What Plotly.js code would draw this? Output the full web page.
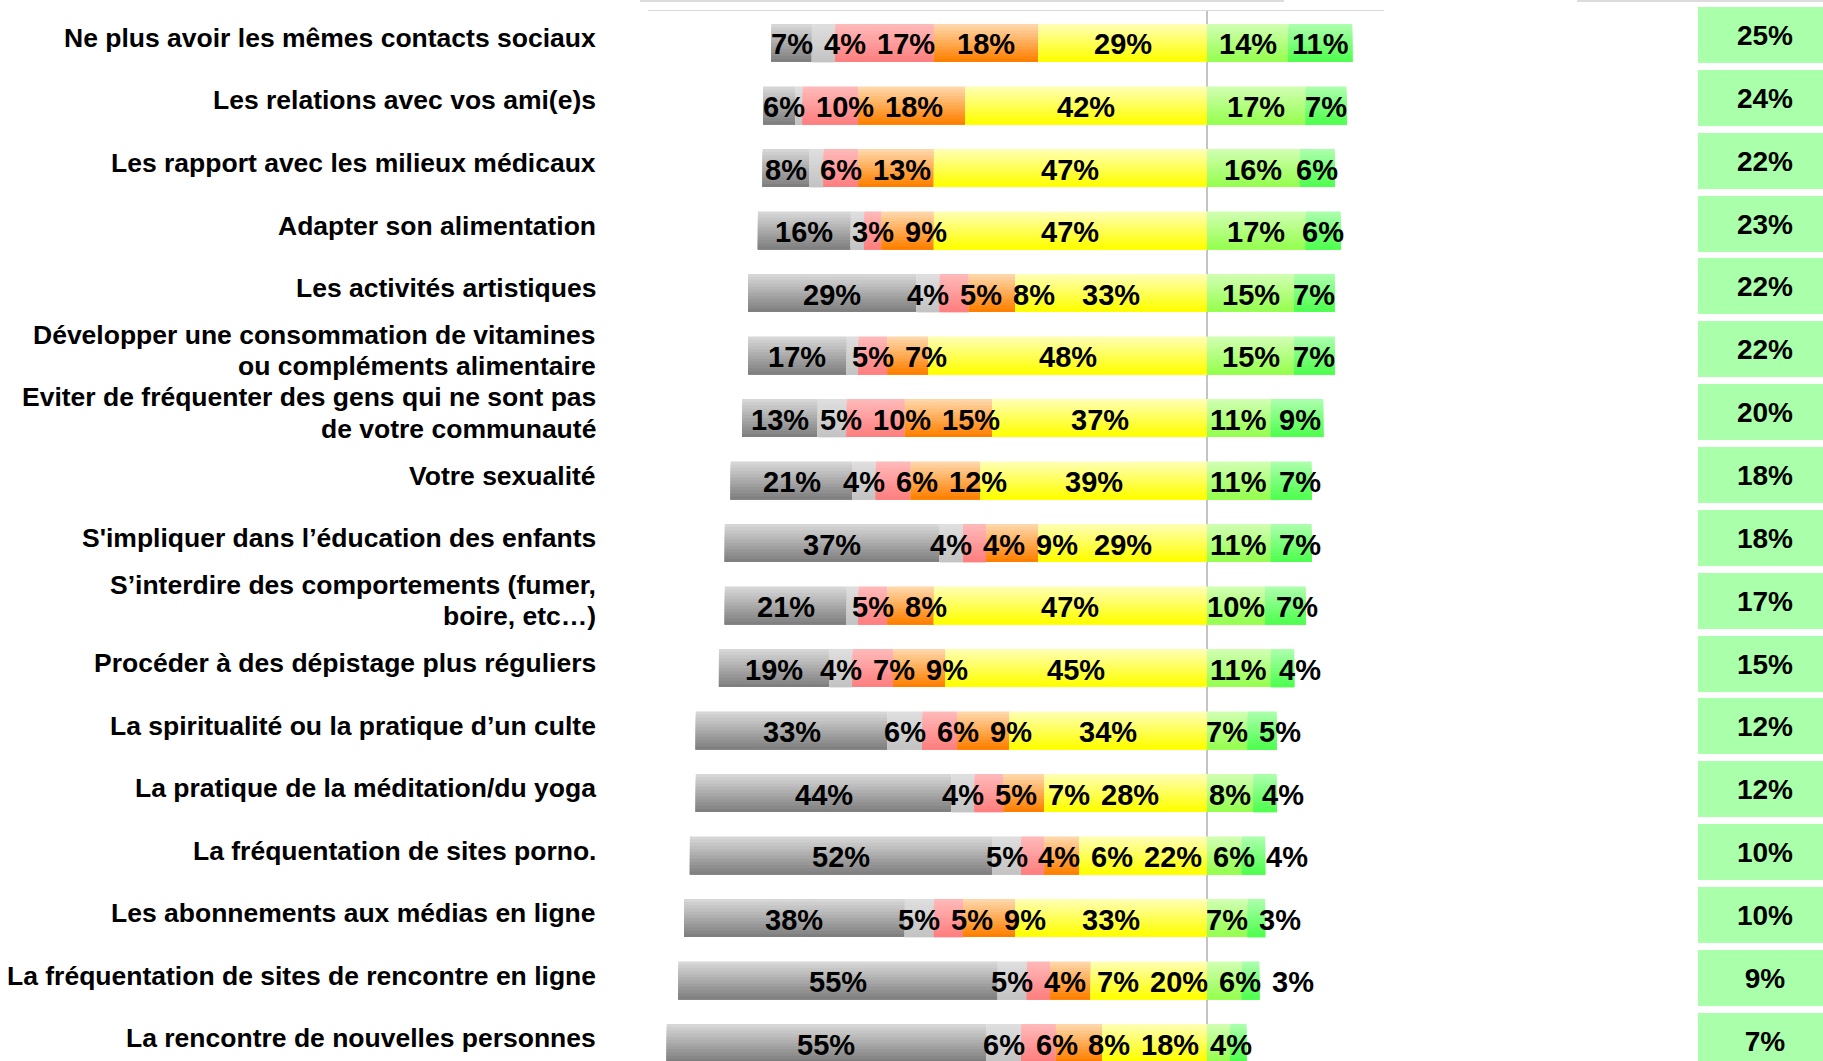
<!DOCTYPE html>
<html>
<head>
<meta charset="utf-8">
<script src="https://cdn.plot.ly/plotly-3.0.1.min.js"></script>
<style>html,body{margin:0;padding:0;background:#fff;}#chart{width:1823px;height:1061px;}</style>
</head>
<body>
<div id="chart"></div>
<script>
const categories = [
  'Ne plus avoir les mêmes contacts sociaux',
  'Les relations avec vos ami(e)s',
  'Les rapport avec les milieux médicaux',
  'Adapter son alimentation',
  'Les activités artistiques',
  'Développer une consommation de vitamines<br>ou compléments alimentaire',
  'Eviter de fréquenter des gens qui ne sont pas<br>de votre communauté',
  'Votre sexualité',
  "S'impliquer dans l’éducation des enfants",
  'S’interdire des comportements (fumer,<br>boire, etc…)',
  'Procéder à des dépistage plus réguliers',
  'La spiritualité ou la pratique d’un culte',
  'La pratique de la méditation/du yoga',
  'La fréquentation de sites porno.',
  'Les abonnements aux médias en ligne',
  'La fréquentation de sites de rencontre en ligne',
  'La rencontre de nouvelles personnes'
];
// left side (negative), from outer to centre
const darkGrey   = [7, 5.6, 8, 16, 29, 17, 13, 21, 37, 21, 19, 33, 44, 52, 38, 55, 55];
const lightGrey  = [4, 1.2, 2.5, 2.3, 4, 2, 5, 4, 4, 2, 4, 6, 4, 5, 5, 5, 6];
const pink       = [17, 9.6, 6, 3, 5, 5, 10, 6, 4, 5, 7, 6, 5, 4, 5, 4, 6];
const orange     = [18, 18.4, 13, 9, 8, 7, 15, 12, 9, 8, 9, 9, 7, 6, 9, 7, 8];
const yellow     = [29, 41.6, 47, 47, 33, 48, 37, 39, 29, 47, 45, 34, 28, 22, 33, 20, 18];
// right side (positive), from centre outwards
const lightGreen = [14, 17, 16, 17, 15, 15, 11, 11, 11, 10, 11, 7, 8, 6, 7, 6, 4];
const green      = [11, 7, 6, 6, 7, 7, 9, 7, 7, 7, 4, 5, 4, 4, 3, 3, 2.8];
// right-hand column
const totals     = [25, 24, 22, 23, 22, 22, 20, 18, 18, 17, 15, 12, 12, 10, 10, 9, 7];

const W = 1823, H = 1061;
const FONT = 'Liberation Sans, Arial, Helvetica, sans-serif';
const LABEL_SIZE = 29;

const outerToCentre = [
  {v: darkGrey,  top: [214,214,214], bot: [128,128,128]},
  {v: lightGrey, top: [222,222,222], bot: [196,196,196]},
  {v: pink,      top: [255,184,184], bot: [255,128,128]},
  {v: orange,    top: [255,214,168], bot: [255,128,0]},
  {v: yellow,    top: [255,255,176], bot: [255,255,0]}
];
const rightSeries = [
  {v: lightGreen, top: [208,255,176], bot: [150,255,80]},
  {v: green,      top: [170,255,170], bot: [80,255,80]}
];

const n = categories.length;
function computeSegments() {
  const segs = [];
  const leftTotal = new Array(n).fill(0);
  outerToCentre.forEach(s => s.v.forEach((v, i) => leftTotal[i] += v));
  let acc = leftTotal.map(t => -t);
  outerToCentre.forEach(s => {
    segs.push({s, base: acc.slice(), x: s.v.slice()});
    acc = acc.map((a, i) => a + s.v[i]);
  });
  let accR = new Array(n).fill(0);
  rightSeries.forEach(s => {
    segs.push({s, base: accR.slice(), x: s.v.slice()});
    accR = accR.map((a, i) => a + s.v[i]);
  });
  return segs;
}

const BAR_W = 0.61;
const STRIPS = 12;
function mix(a, b, t) {
  return 'rgb(' + a.map((c, i) => Math.round(c + (b[i] - c) * t)).join(',') + ')';
}

const traces = [];
const segs = computeSegments();
segs.forEach(seg => {
  for (let k = 0; k < STRIPS; k++) {
    const t = k / (STRIPS - 1);
    traces.push({
      type: 'bar', orientation: 'h',
      y: categories, x: seg.x, base: seg.base,
      width: BAR_W - BAR_W * k / STRIPS,
      offset: -BAR_W / 2 + BAR_W * k / STRIPS,
      marker: {color: mix(seg.s.top, seg.s.bot, t), line: {width: 0}},
      hoverinfo: 'skip', showlegend: false
    });
  }
});

const pxPerUnit = 5.81, zeroPx = 1207, plotL = 648, plotR = 1384, plotTop = 11;

function textWidth(s) {
  let w = 0;
  for (const ch of s) w += (ch === '%') ? 0.889 : 0.556;
  return w * LABEL_SIZE;
}
const GAP = 11;
const annotations = [];
for (let i = 0; i < n; i++) {
  let prevRight = -Infinity;
  const barStart = zeroPx + segs[0].base[i] * pxPerUnit;
  segs.forEach(seg => {
    const val = seg.x[i];
    if (val < 3) return;
    const txt = Math.round(val) + '%';
    const w = textWidth(txt);
    let c = zeroPx + (seg.base[i] + val / 2) * pxPerUnit;
    if (c - w / 2 < barStart) c = barStart + w / 2;
    if (c - w / 2 < prevRight + GAP) c = prevRight + GAP + w / 2;
    prevRight = c + w / 2;
    annotations.push({
      xref: 'x', yref: 'y', x: (c - zeroPx) / pxPerUnit, y: categories[i],
      xanchor: 'center', yanchor: 'middle', yshift: -1.5, showarrow: false,
      text: txt, font: {family: FONT, size: LABEL_SIZE, color: '#000', weight: 'bold'}
    });
  });
}

const LINE_H = 31.4;
categories.forEach((c, i) => {
  const lines = c.split('<br>');
  lines.forEach((line, j) => {
    annotations.push({
      xref: 'paper', yref: 'y', x: 598 / W, y: c, xanchor: 'right', yanchor: 'middle',
      yshift: 5 + ((lines.length - 1) / 2 - j) * LINE_H,
      text: line, showarrow: false, align: 'right',
      font: {family: FONT, size: 26.5, color: '#000', weight: 'bold'}
    });
  });
  annotations.push({
    xref: 'paper', yref: 'y', x: 1698 / W, y: c, xanchor: 'left', yanchor: 'middle',
    yshift: 8 - 0.36 * i, text: totals[i] + '%', showarrow: false, align: 'center',
    width: 134, height: 56, bgcolor: '#aaffaa', borderwidth: 0, borderpad: 0,
    font: {family: FONT, size: 28, color: '#000', weight: 'bold'}
  });
});

const layout = {
  width: W, height: H,
  margin: {l: 0, r: 0, t: 0, b: 0, pad: 0},
  paper_bgcolor: '#fff', plot_bgcolor: '#fff',
  barmode: 'overlay',
  showlegend: false,
  hovermode: false,
  xaxis: {
    domain: [plotL / W, plotR / W],
    range: [(plotL - zeroPx) / pxPerUnit, (plotR - zeroPx) / pxPerUnit],
    showgrid: false, showticklabels: false, ticks: '',
    zeroline: true, zerolinecolor: '#c4c4c4', zerolinewidth: 2,
    showline: true, side: 'top', linecolor: '#dadada', linewidth: 1,
    fixedrange: true
  },
  yaxis: {
    domain: [0, 1 - plotTop / H],
    type: 'category', categoryorder: 'array', categoryarray: categories,
    range: [-0.512 + 1050 / 62.5, -0.512],
    showgrid: false, showticklabels: false, ticks: '', zeroline: false, showline: false,
    fixedrange: true
  },
  shapes: [
    {type: 'line', xref: 'paper', yref: 'paper', x0: 640 / W, x1: 1284 / W, y0: 1 - 1 / H, y1: 1 - 1 / H,
     line: {color: '#dcdcdc', width: 2}},
    {type: 'line', xref: 'paper', yref: 'paper', x0: 1577 / W, x1: 1, y0: 1 - 1 / H, y1: 1 - 1 / H,
     line: {color: '#dcdcdc', width: 2}}
  ],
  annotations: annotations
};

Plotly.newPlot('chart', traces, layout, {staticPlot: true, displayModeBar: false});
</script>
</body>
</html>
